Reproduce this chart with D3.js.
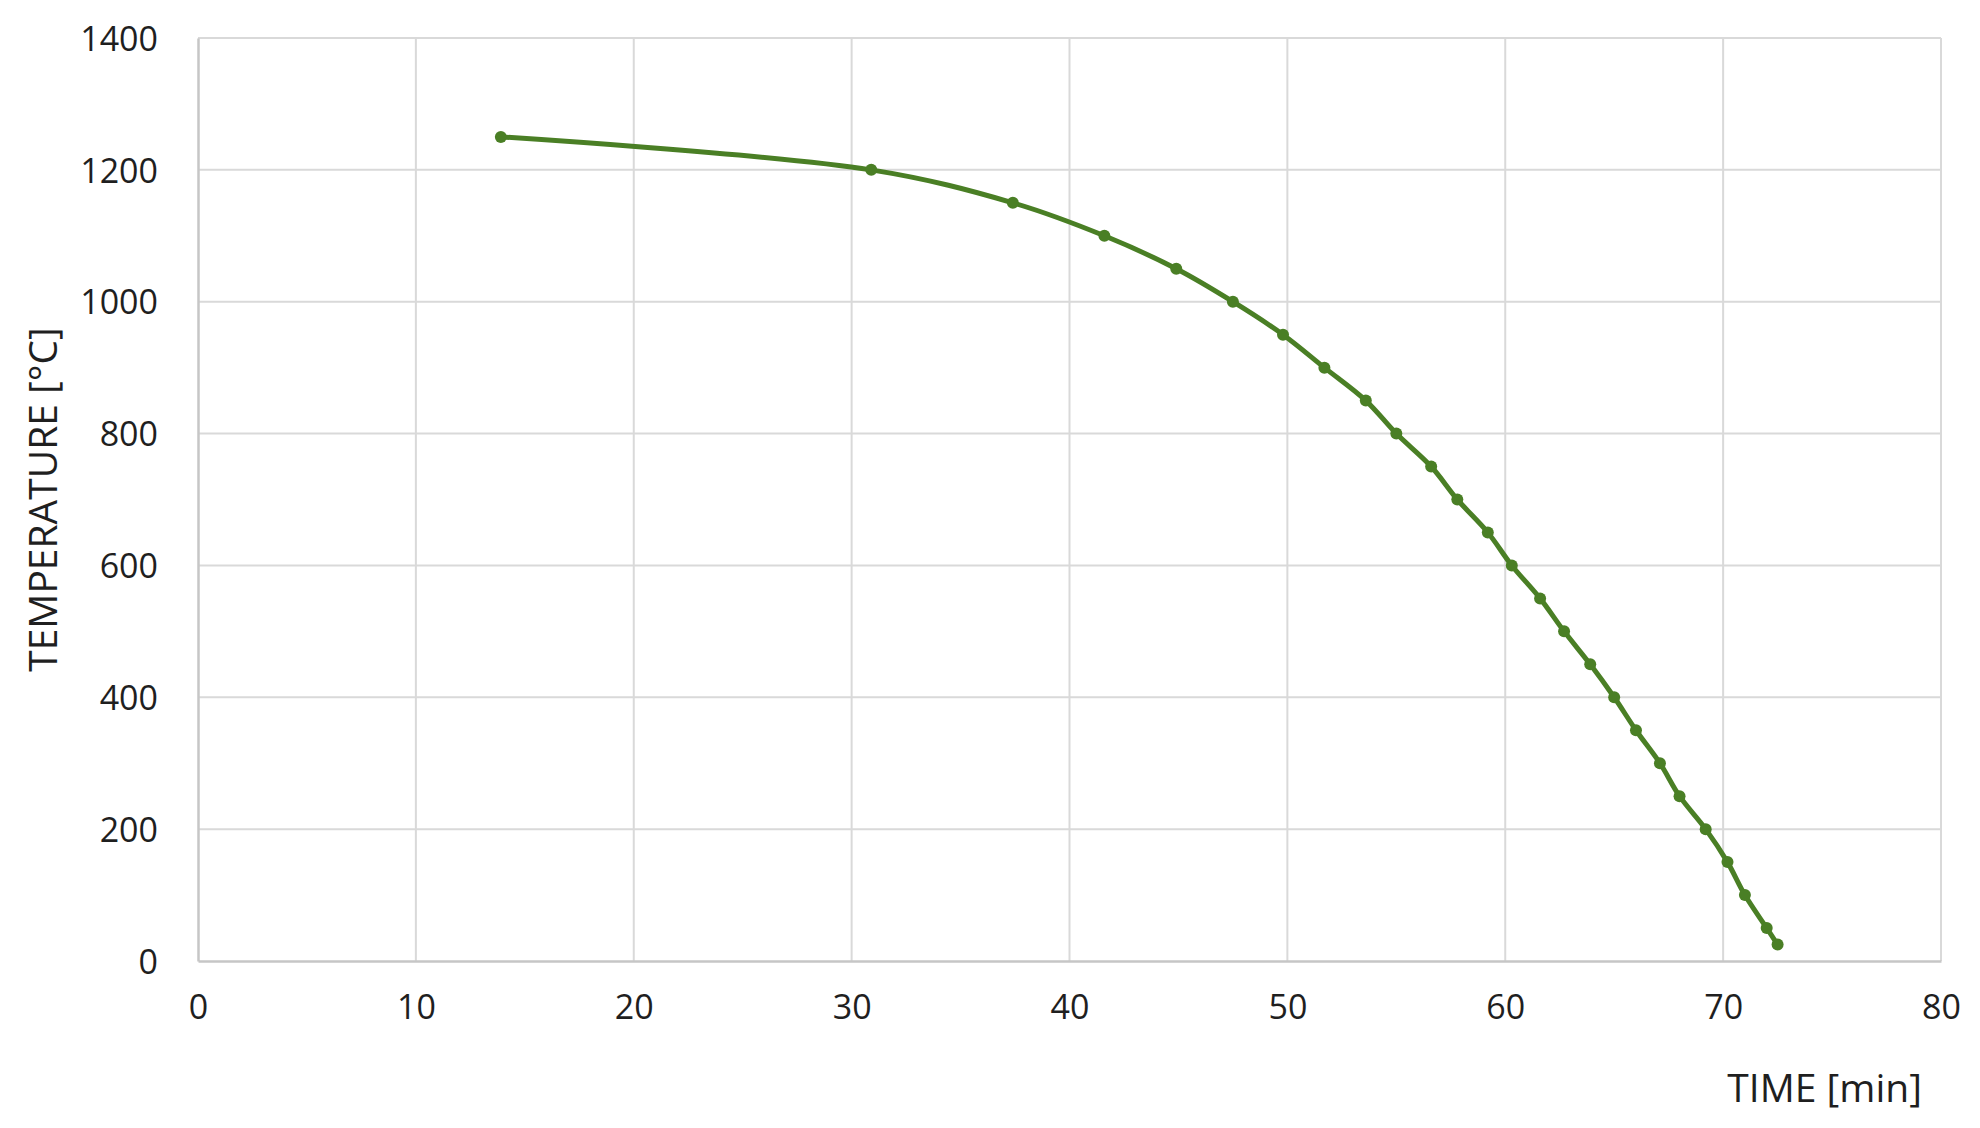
<!DOCTYPE html>
<html>
<head>
<meta charset="utf-8">
<script src="https://cdn.jsdelivr.net/npm/d3@7"></script>
<style>
  html, body { margin: 0; padding: 0; background: #fff; }
  svg { display: block; }
  text { font-family: "Open Sans", "Noto Sans", sans-serif; fill: #1f1f1f; }
</style>
</head>
<body>
<svg id="chart" width="1980" height="1128"></svg>
<script>
// Data
const timeMin = [13.9, 30.9, 37.4, 41.6, 44.9, 47.5, 49.8, 51.7, 53.6, 55.0, 56.6, 57.8, 59.2, 60.3, 61.6, 62.7, 63.9, 65.0, 66.0, 67.1, 68.0, 69.2, 70.2, 71.0, 72.0, 72.5];
const temperatureC = [1250, 1200, 1150, 1100, 1050, 1000, 950, 900, 850, 800, 750, 700, 650, 600, 550, 500, 450, 400, 350, 300, 250, 200, 150, 100, 50, 25];
const xTicks = [0, 10, 20, 30, 40, 50, 60, 70, 80];
const yTicks = [0, 200, 400, 600, 800, 1000, 1200, 1400];
const xTitle = "TIME [min]";
const yTitle = "TEMPERATURE [°C]";

const W = 1980, H = 1128;
const m = { left: 198, right: W - 1941, top: 38, bottom: H - 961 };
const svg = d3.select("#chart");

const x = d3.scaleLinear().domain([0, 80]).range([m.left, W - m.right]);
const y = d3.scaleLinear().domain([0, 1400]).range([H - m.bottom, m.top]);

// Gridlines
const grid = svg.append("g");
grid.selectAll("line.v").data(xTicks.filter(d => d !== 0)).join("line")
  .attr("x1", d => x(d)).attr("x2", d => x(d))
  .attr("y1", y(0)).attr("y2", y(1400))
  .attr("stroke", "#d9d9d9").attr("stroke-width", 2);
grid.selectAll("line.h").data(yTicks.filter(d => d !== 0)).join("line")
  .attr("x1", x(0)).attr("x2", x(80))
  .attr("y1", d => y(d)).attr("y2", d => y(d))
  .attr("stroke", "#d9d9d9").attr("stroke-width", 2);

// Axes
const fmt = d3.format("d");
const xAxis = d3.axisBottom(x).tickValues(xTicks).tickFormat(fmt).tickSize(0).tickPadding(34);
const yAxis = d3.axisLeft(y).tickValues(yTicks).tickFormat(fmt).tickSize(0).tickPadding(40);

const gx = svg.append("g").attr("transform", `translate(0,${y(0)})`).call(xAxis);
const gy = svg.append("g").attr("transform", `translate(${x(0)},0)`).call(yAxis);
[gx, gy].forEach(g => {
  g.select(".domain").attr("stroke", "#c6c6c6").attr("stroke-width", 2.5);
  g.selectAll("text").attr("font-size", 34).attr("fill", "#1f1f1f")
    .attr("font-family", '"Open Sans", sans-serif');
});
gy.selectAll("text").attr("dy", "0.36em");

// Series line (smoothed)
const pts = timeMin.map((t, i) => [t, temperatureC[i]]);
const line = d3.line().x(d => x(d[0])).y(d => y(d[1])).curve(d3.curveCatmullRom.alpha(0.5));
svg.append("path").datum(pts)
  .attr("d", line)
  .attr("fill", "none")
  .attr("stroke", "#4a7f25")
  .attr("stroke-width", 5)
  .attr("stroke-linejoin", "round");

svg.append("g").selectAll("circle").data(pts).join("circle")
  .attr("cx", d => x(d[0])).attr("cy", d => y(d[1]))
  .attr("r", 6).attr("fill", "#4a7f25");

// Axis titles
svg.append("text")
  .attr("x", 1922).attr("y", 1102)
  .attr("text-anchor", "end")
  .attr("font-size", 39)
  .text(xTitle);

svg.append("text")
  .attr("transform", `translate(57,${(y(0) + y(1400)) / 2}) rotate(-90)`)
  .attr("text-anchor", "middle")
  .attr("font-size", 39)
  .text(yTitle);
</script>
</body>
</html>
